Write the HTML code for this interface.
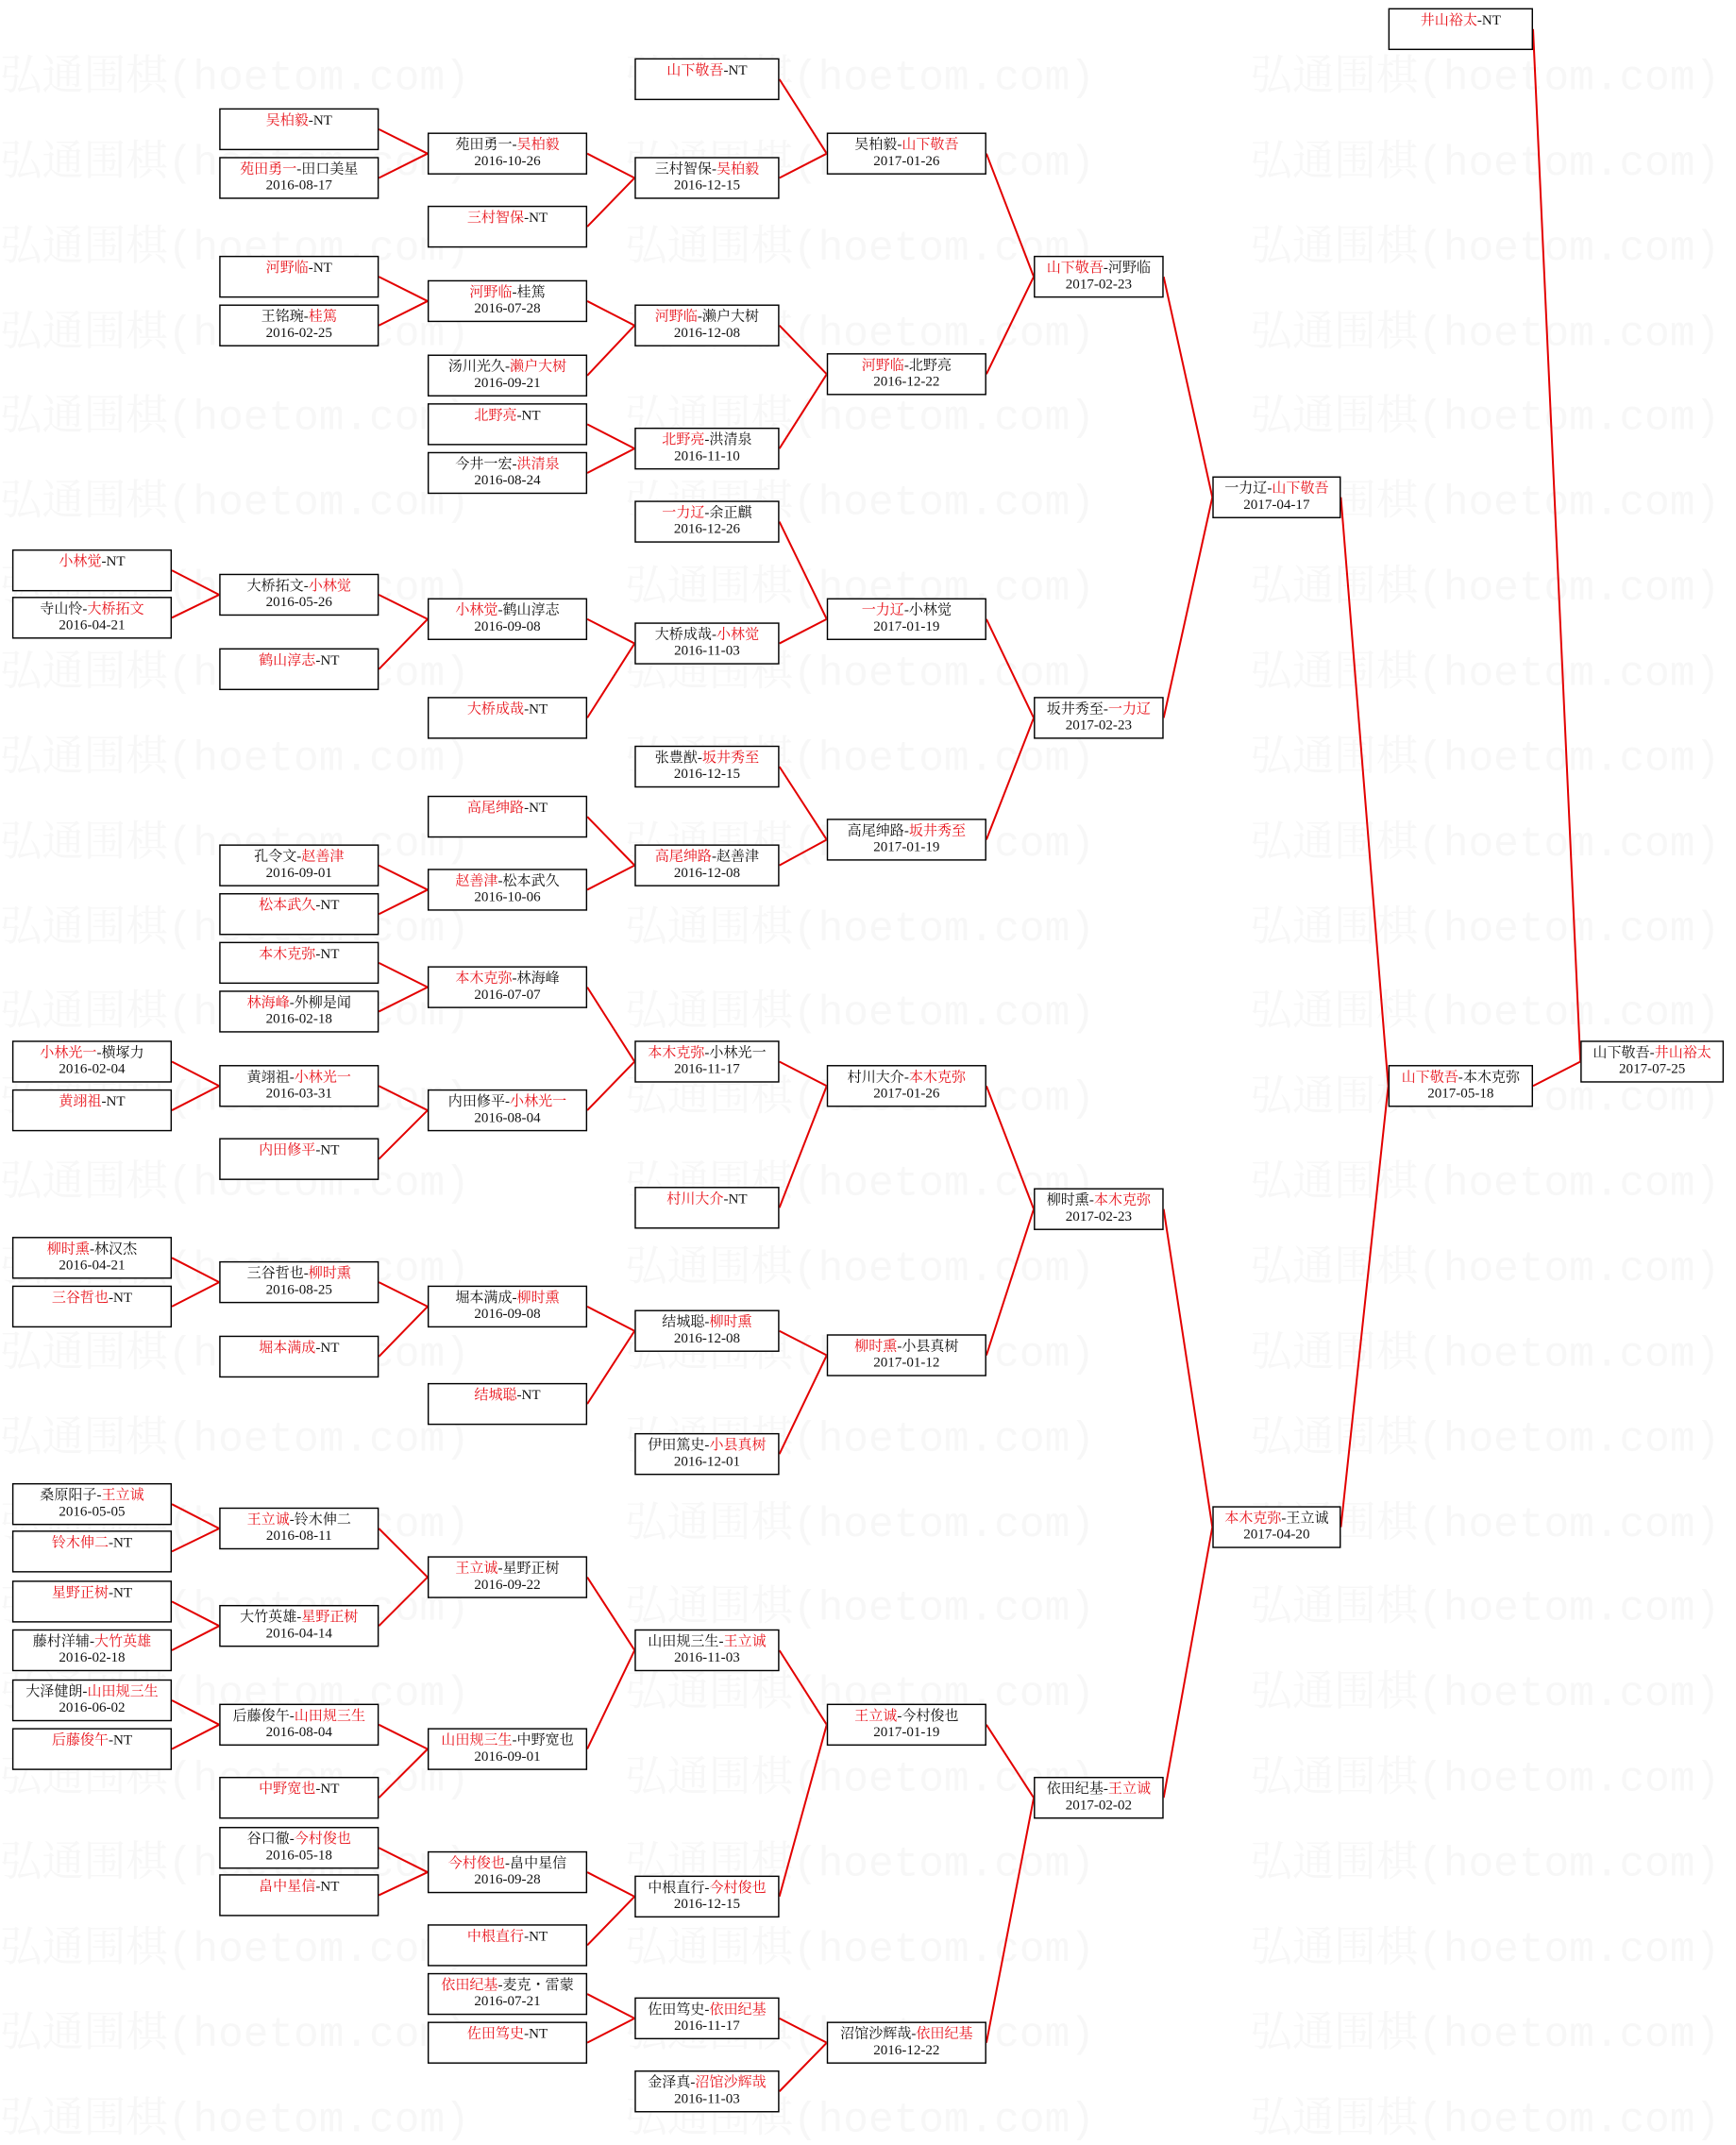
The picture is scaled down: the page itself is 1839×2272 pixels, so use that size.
<!DOCTYPE html>
<html><head><meta charset="utf-8">
<style>
html,body{margin:0;padding:0;background:#fff;width:1839px;height:2249px;overflow:hidden}
#c{position:absolute;left:0;top:0;width:1283px;height:1569px;transform:scale(1.43336);transform-origin:0 0;font-family:"Liberation Serif","Noto Serif CJK SC",serif}
.w{position:absolute;left:0;font-size:31px;color:#f7f7f7;white-space:nowrap;font-family:"Liberation Mono","Noto Serif CJK SC",monospace}
.w span{display:inline-block;width:462px}
.b{position:absolute;height:31px;box-sizing:border-box;border:1.4px solid #000;background:#fff;font-size:10.5px;line-height:11.5px;padding-top:3px;text-align:center;color:#111;white-space:nowrap}
.b i{font-style:normal;color:#e8141c}
.c0,.c1,.c2,.c4{width:118px}.c3{width:107px}.c5{width:96px}.c6{width:95px}.c7{width:107px}.c8{width:106px}
.c0{left:9px}.c1{left:162px}.c2{left:316px}.c3{left:469px}.c4{left:611px}.c5{left:764px}.c6{left:896px}.c7{left:1026px}.c8{left:1168px}
svg{position:absolute;left:0;top:0}
</style></head><body><div id="c">
<div class="w" style="top:30px"><span>弘通围棋(hoetom.com)</span><span>弘通围棋(hoetom.com)</span><span>弘通围棋(hoetom.com)</span></div>
<div class="w" style="top:93px"><span>弘通围棋(hoetom.com)</span><span>弘通围棋(hoetom.com)</span><span>弘通围棋(hoetom.com)</span></div>
<div class="w" style="top:156px"><span>弘通围棋(hoetom.com)</span><span>弘通围棋(hoetom.com)</span><span>弘通围棋(hoetom.com)</span></div>
<div class="w" style="top:219px"><span>弘通围棋(hoetom.com)</span><span>弘通围棋(hoetom.com)</span><span>弘通围棋(hoetom.com)</span></div>
<div class="w" style="top:281px"><span>弘通围棋(hoetom.com)</span><span>弘通围棋(hoetom.com)</span><span>弘通围棋(hoetom.com)</span></div>
<div class="w" style="top:344px"><span>弘通围棋(hoetom.com)</span><span>弘通围棋(hoetom.com)</span><span>弘通围棋(hoetom.com)</span></div>
<div class="w" style="top:407px"><span>弘通围棋(hoetom.com)</span><span>弘通围棋(hoetom.com)</span><span>弘通围棋(hoetom.com)</span></div>
<div class="w" style="top:470px"><span>弘通围棋(hoetom.com)</span><span>弘通围棋(hoetom.com)</span><span>弘通围棋(hoetom.com)</span></div>
<div class="w" style="top:533px"><span>弘通围棋(hoetom.com)</span><span>弘通围棋(hoetom.com)</span><span>弘通围棋(hoetom.com)</span></div>
<div class="w" style="top:596px"><span>弘通围棋(hoetom.com)</span><span>弘通围棋(hoetom.com)</span><span>弘通围棋(hoetom.com)</span></div>
<div class="w" style="top:659px"><span>弘通围棋(hoetom.com)</span><span>弘通围棋(hoetom.com)</span><span>弘通围棋(hoetom.com)</span></div>
<div class="w" style="top:721px"><span>弘通围棋(hoetom.com)</span><span>弘通围棋(hoetom.com)</span><span>弘通围棋(hoetom.com)</span></div>
<div class="w" style="top:784px"><span>弘通围棋(hoetom.com)</span><span>弘通围棋(hoetom.com)</span><span>弘通围棋(hoetom.com)</span></div>
<div class="w" style="top:847px"><span>弘通围棋(hoetom.com)</span><span>弘通围棋(hoetom.com)</span><span>弘通围棋(hoetom.com)</span></div>
<div class="w" style="top:910px"><span>弘通围棋(hoetom.com)</span><span>弘通围棋(hoetom.com)</span><span>弘通围棋(hoetom.com)</span></div>
<div class="w" style="top:973px"><span>弘通围棋(hoetom.com)</span><span>弘通围棋(hoetom.com)</span><span>弘通围棋(hoetom.com)</span></div>
<div class="w" style="top:1036px"><span>弘通围棋(hoetom.com)</span><span>弘通围棋(hoetom.com)</span><span>弘通围棋(hoetom.com)</span></div>
<div class="w" style="top:1099px"><span>弘通围棋(hoetom.com)</span><span>弘通围棋(hoetom.com)</span><span>弘通围棋(hoetom.com)</span></div>
<div class="w" style="top:1161px"><span>弘通围棋(hoetom.com)</span><span>弘通围棋(hoetom.com)</span><span>弘通围棋(hoetom.com)</span></div>
<div class="w" style="top:1224px"><span>弘通围棋(hoetom.com)</span><span>弘通围棋(hoetom.com)</span><span>弘通围棋(hoetom.com)</span></div>
<div class="w" style="top:1287px"><span>弘通围棋(hoetom.com)</span><span>弘通围棋(hoetom.com)</span><span>弘通围棋(hoetom.com)</span></div>
<div class="w" style="top:1350px"><span>弘通围棋(hoetom.com)</span><span>弘通围棋(hoetom.com)</span><span>弘通围棋(hoetom.com)</span></div>
<div class="w" style="top:1413px"><span>弘通围棋(hoetom.com)</span><span>弘通围棋(hoetom.com)</span><span>弘通围棋(hoetom.com)</span></div>
<div class="w" style="top:1476px"><span>弘通围棋(hoetom.com)</span><span>弘通围棋(hoetom.com)</span><span>弘通围棋(hoetom.com)</span></div>
<div class="w" style="top:1539px"><span>弘通围棋(hoetom.com)</span><span>弘通围棋(hoetom.com)</span><span>弘通围棋(hoetom.com)</span></div>

<svg width="1283" height="1569" viewBox="0 0 1283 1569"><g stroke="#e30000" stroke-width="1.4" fill="none">
<path d="M127 421.5L162 439.5M127 456.5L162 439.5M127 784.5L162 802.5M127 820.5L162 802.5M127 929.5L162 947.5M127 965.5L162 947.5M127 1111.5L162 1129.5M127 1146.5L162 1129.5M127 1183.5L162 1201.5M127 1219.5L162 1201.5M127 1256.5L162 1274.5M127 1292.5L162 1274.5"/>
<path d="M280 95.5L316 113.5M280 131.5L316 113.5M280 204.5L316 222.5M280 240.5L316 222.5M280 439.5L316 457.5M280 494.5L316 457.5M280 639.5L316 657.5M280 675.5L316 657.5M280 711.5L316 729.5M280 747.5L316 729.5M280 802.5L316 820.5M280 856.5L316 820.5M280 947.5L316 965.5M280 1002.5L316 965.5M280 1129.5L316 1165.5M280 1201.5L316 1165.5M280 1274.5L316 1292.5M280 1328.5L316 1292.5M280 1365.5L316 1383.5M280 1400.5L316 1383.5"/>
<path d="M434 113.5L469 131.5M434 167.5L469 131.5M434 222.5L469 240.5M434 277.5L469 240.5M434 313.5L469 331.5M434 349.5L469 331.5M434 457.5L469 475.5M434 530.5L469 475.5M434 603.5L469 639.5M434 657.5L469 639.5M434 729.5L469 784.5M434 820.5L469 784.5M434 965.5L469 983.5M434 1037.5L469 983.5M434 1165.5L469 1219.5M434 1292.5L469 1219.5M434 1383.5L469 1401.5M434 1437.5L469 1401.5M434 1473.5L469 1491.5M434 1509.5L469 1491.5"/>
<path d="M576 58.5L611 113.5M576 131.5L611 113.5M576 240.5L611 276.5M576 331.5L611 276.5M576 385.5L611 457.5M576 475.5L611 457.5M576 566.5L611 620.5M576 639.5L611 620.5M576 784.5L611 802.5M576 892.5L611 802.5M576 983.5L611 1001.5M576 1074.5L611 1001.5M576 1219.5L611 1274.5M576 1401.5L611 1274.5M576 1491.5L611 1509.5M576 1545.5L611 1509.5"/>
<path d="M729 113.5L764 204.5M729 276.5L764 204.5M729 457.5L764 530.5M729 620.5L764 530.5M729 802.5L764 893.5M729 1001.5L764 893.5M729 1274.5L764 1328.5M729 1509.5L764 1328.5"/>
<path d="M860 204.5L896 367.5M860 530.5L896 367.5M860 893.5L896 1128.5M860 1328.5L896 1128.5"/>
<path d="M991 367.5L1026 802.5M991 1128.5L1026 802.5"/>
<path d="M1133 21.5L1168 784.5M1133 802.5L1168 784.5"/>
</g></svg>

<div class="b c0" style="top:406px"><i>小林觉</i>-NT</div>
<div class="b c0" style="top:441px">寺山怜-<i>大桥拓文</i><br>2016-04-21</div>
<div class="b c0" style="top:769px"><i>小林光一</i>-横塚力<br>2016-02-04</div>
<div class="b c0" style="top:805px"><i>黄翊祖</i>-NT</div>
<div class="b c0" style="top:914px"><i>柳时熏</i>-林汉杰<br>2016-04-21</div>
<div class="b c0" style="top:950px"><i>三谷哲也</i>-NT</div>
<div class="b c0" style="top:1096px">桑原阳子-<i>王立诚</i><br>2016-05-05</div>
<div class="b c0" style="top:1131px"><i>铃木伸二</i>-NT</div>
<div class="b c0" style="top:1168px"><i>星野正树</i>-NT</div>
<div class="b c0" style="top:1204px">藤村洋辅-<i>大竹英雄</i><br>2016-02-18</div>
<div class="b c0" style="top:1241px">大泽健朗-<i>山田规三生</i><br>2016-06-02</div>
<div class="b c0" style="top:1277px"><i>后藤俊午</i>-NT</div>

<div class="b c1" style="top:80px"><i>吴柏毅</i>-NT</div>
<div class="b c1" style="top:116px"><i>苑田勇一</i>-田口美星<br>2016-08-17</div>
<div class="b c1" style="top:189px"><i>河野临</i>-NT</div>
<div class="b c1" style="top:225px">王铭琬-<i>桂篤</i><br>2016-02-25</div>
<div class="b c1" style="top:424px">大桥拓文-<i>小林觉</i><br>2016-05-26</div>
<div class="b c1" style="top:479px"><i>鹤山淳志</i>-NT</div>
<div class="b c1" style="top:624px">孔令文-<i>赵善津</i><br>2016-09-01</div>
<div class="b c1" style="top:660px"><i>松本武久</i>-NT</div>
<div class="b c1" style="top:696px"><i>本木克弥</i>-NT</div>
<div class="b c1" style="top:732px"><i>林海峰</i>-外柳是闻<br>2016-02-18</div>
<div class="b c1" style="top:787px">黄翊祖-<i>小林光一</i><br>2016-03-31</div>
<div class="b c1" style="top:841px"><i>内田修平</i>-NT</div>
<div class="b c1" style="top:932px">三谷哲也-<i>柳时熏</i><br>2016-08-25</div>
<div class="b c1" style="top:987px"><i>堀本满成</i>-NT</div>
<div class="b c1" style="top:1114px"><i>王立诚</i>-铃木伸二<br>2016-08-11</div>
<div class="b c1" style="top:1186px">大竹英雄-<i>星野正树</i><br>2016-04-14</div>
<div class="b c1" style="top:1259px">后藤俊午-<i>山田规三生</i><br>2016-08-04</div>
<div class="b c1" style="top:1313px"><i>中野宽也</i>-NT</div>
<div class="b c1" style="top:1350px">谷口徹-<i>今村俊也</i><br>2016-05-18</div>
<div class="b c1" style="top:1385px"><i>畠中星信</i>-NT</div>

<div class="b c2" style="top:98px">苑田勇一-<i>吴柏毅</i><br>2016-10-26</div>
<div class="b c2" style="top:152px"><i>三村智保</i>-NT</div>
<div class="b c2" style="top:207px"><i>河野临</i>-桂篤<br>2016-07-28</div>
<div class="b c2" style="top:262px">汤川光久-<i>濑户大树</i><br>2016-09-21</div>
<div class="b c2" style="top:298px"><i>北野亮</i>-NT</div>
<div class="b c2" style="top:334px">今井一宏-<i>洪清泉</i><br>2016-08-24</div>
<div class="b c2" style="top:442px"><i>小林觉</i>-鹤山淳志<br>2016-09-08</div>
<div class="b c2" style="top:515px"><i>大桥成哉</i>-NT</div>
<div class="b c2" style="top:588px"><i>高尾绅路</i>-NT</div>
<div class="b c2" style="top:642px"><i>赵善津</i>-松本武久<br>2016-10-06</div>
<div class="b c2" style="top:714px"><i>本木克弥</i>-林海峰<br>2016-07-07</div>
<div class="b c2" style="top:805px">内田修平-<i>小林光一</i><br>2016-08-04</div>
<div class="b c2" style="top:950px">堀本满成-<i>柳时熏</i><br>2016-09-08</div>
<div class="b c2" style="top:1022px"><i>结城聪</i>-NT</div>
<div class="b c2" style="top:1150px"><i>王立诚</i>-星野正树<br>2016-09-22</div>
<div class="b c2" style="top:1277px"><i>山田规三生</i>-中野宽也<br>2016-09-01</div>
<div class="b c2" style="top:1368px"><i>今村俊也</i>-畠中星信<br>2016-09-28</div>
<div class="b c2" style="top:1422px"><i>中根直行</i>-NT</div>
<div class="b c2" style="top:1458px"><i>依田纪基</i>-麦克・雷蒙<br>2016-07-21</div>
<div class="b c2" style="top:1494px"><i>佐田笃史</i>-NT</div>

<div class="b c3" style="top:43px"><i>山下敬吾</i>-NT</div>
<div class="b c3" style="top:116px">三村智保-<i>吴柏毅</i><br>2016-12-15</div>
<div class="b c3" style="top:225px"><i>河野临</i>-濑户大树<br>2016-12-08</div>
<div class="b c3" style="top:316px"><i>北野亮</i>-洪清泉<br>2016-11-10</div>
<div class="b c3" style="top:370px"><i>一力辽</i>-余正麒<br>2016-12-26</div>
<div class="b c3" style="top:460px">大桥成哉-<i>小林觉</i><br>2016-11-03</div>
<div class="b c3" style="top:551px">张豊猷-<i>坂井秀至</i><br>2016-12-15</div>
<div class="b c3" style="top:624px"><i>高尾绅路</i>-赵善津<br>2016-12-08</div>
<div class="b c3" style="top:769px"><i>本木克弥</i>-小林光一<br>2016-11-17</div>
<div class="b c3" style="top:877px"><i>村川大介</i>-NT</div>
<div class="b c3" style="top:968px">结城聪-<i>柳时熏</i><br>2016-12-08</div>
<div class="b c3" style="top:1059px">伊田篤史-<i>小县真树</i><br>2016-12-01</div>
<div class="b c3" style="top:1204px">山田规三生-<i>王立诚</i><br>2016-11-03</div>
<div class="b c3" style="top:1386px">中根直行-<i>今村俊也</i><br>2016-12-15</div>
<div class="b c3" style="top:1476px">佐田笃史-<i>依田纪基</i><br>2016-11-17</div>
<div class="b c3" style="top:1530px">金泽真-<i>沼馆沙辉哉</i><br>2016-11-03</div>

<div class="b c4" style="top:98px">吴柏毅-<i>山下敬吾</i><br>2017-01-26</div>
<div class="b c4" style="top:261px"><i>河野临</i>-北野亮<br>2016-12-22</div>
<div class="b c4" style="top:442px"><i>一力辽</i>-小林觉<br>2017-01-19</div>
<div class="b c4" style="top:605px">高尾绅路-<i>坂井秀至</i><br>2017-01-19</div>
<div class="b c4" style="top:787px">村川大介-<i>本木克弥</i><br>2017-01-26</div>
<div class="b c4" style="top:986px"><i>柳时熏</i>-小县真树<br>2017-01-12</div>
<div class="b c4" style="top:1259px"><i>王立诚</i>-今村俊也<br>2017-01-19</div>
<div class="b c4" style="top:1494px">沼馆沙辉哉-<i>依田纪基</i><br>2016-12-22</div>

<div class="b c5" style="top:189px"><i>山下敬吾</i>-河野临<br>2017-02-23</div>
<div class="b c5" style="top:515px">坂井秀至-<i>一力辽</i><br>2017-02-23</div>
<div class="b c5" style="top:878px">柳时熏-<i>本木克弥</i><br>2017-02-23</div>
<div class="b c5" style="top:1313px">依田纪基-<i>王立诚</i><br>2017-02-02</div>

<div class="b c6" style="top:352px">一力辽-<i>山下敬吾</i><br>2017-04-17</div>
<div class="b c6" style="top:1113px"><i>本木克弥</i>-王立诚<br>2017-04-20</div>

<div class="b c7" style="top:6px"><i>井山裕太</i>-NT</div>
<div class="b c7" style="top:787px"><i>山下敬吾</i>-本木克弥<br>2017-05-18</div>

<div class="b c8" style="top:769px">山下敬吾-<i>井山裕太</i><br>2017-07-25</div>
</div></body></html>
